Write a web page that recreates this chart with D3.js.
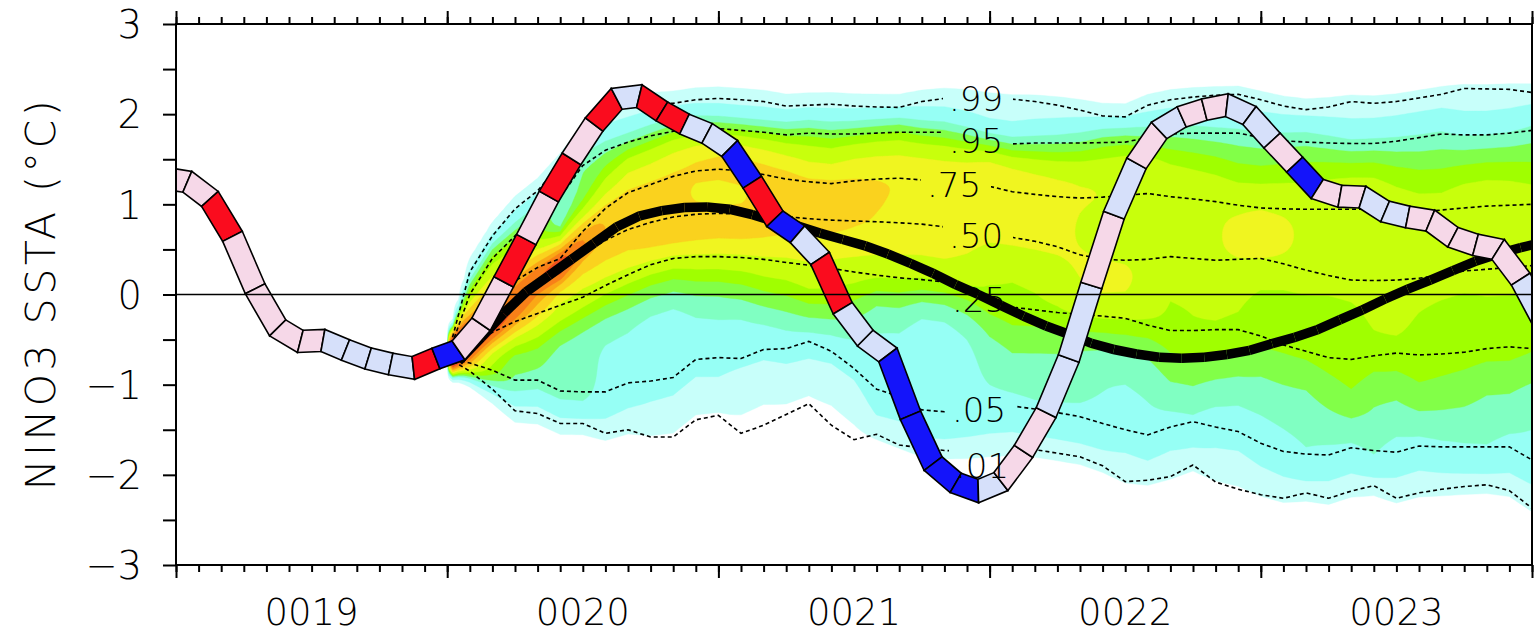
<!DOCTYPE html>
<html>
<head>
<meta charset="utf-8">
<script src="https://cdn.jsdelivr.net/npm/d3@7"></script>
<style>
  html, body { margin: 0; padding: 0; background: #fff; }
  svg text { font-family: "DejaVu Sans ExtraLight", "DejaVu Sans", sans-serif; font-weight: 200; fill: #000; }
</style>
</head>
<body>
<svg id="chart" width="1534" height="634"></svg>
<script>
// ---------------- data ----------------
// Months are counted from January 0019 (index 0).
// Observed anomalies sit at mid-month, starting with December 0018.
const obsStartMonth = -1;
const obsValues = [
  1.29, 1.25, 1.06, 0.645, 0.064, -0.37, -0.52, -0.51, -0.615, -0.71, -0.77, -0.815,
  -0.71, -0.62, -0.33, 0.14, 0.61, 1.087, 1.504, 1.885, 2.17, 2.20, 2.03, 1.89,
  1.787, 1.62, 1.245, 0.84, 0.668, 0.40, -0.153, -0.484, -0.67, -1.34, -1.876, -2.09,
  -2.18, -2.075, -1.74, -1.31, -0.71, 0.10, 0.88, 1.455, 1.82, 1.97, 2.05, 2.10,
  1.985, 1.707, 1.44, 1.17, 1.09, 1.08, 0.92, 0.86, 0.82, 0.635, 0.55, 0.50,
  0.17, -0.30
];
// colour class of each monthly segment (R red, P pink, L light blue, B blue)
const obsClass = [
  "P","P","R","P","P","P","P","L","L","L","L","R",
  "B","P","P","R","P","R","P","R","L","R","R","L",
  "L","B","R","B","L","R","L","L","B","B","B","B",
  "L","P","P","L","L","P","L","P","L","P","P","L",
  "L","P","B","P","P","L","L","P","P","P","P","P",
  "L"
];
const classColors = { R: "#fa0c1e", P: "#f6d8e8", L: "#d6e0fa", B: "#1414fa" };

// ensemble mean, mid-month values from January 0020
const meanStartMonth = 12;
const meanValues = [
  -0.74, -0.48, -0.21, 0.03, 0.21, 0.39, 0.57, 0.75, 0.87, 0.93, 0.965, 0.97,
  0.945, 0.885, 0.81, 0.76, 0.68, 0.61, 0.54, 0.45, 0.345, 0.235, 0.11, 0.0,
  -0.12, -0.24, -0.35, -0.44, -0.54, -0.61, -0.66, -0.695, -0.707, -0.695, -0.665, -0.62,
  -0.545, -0.475, -0.39, -0.28, -0.17, -0.05, 0.06, 0.16, 0.265, 0.37, 0.45, 0.52,
  0.58
];

// ensemble percentiles at the start of each month, from 1 January 0020 to 1 January 0024
const fcStartMonth = 12;
const p01 = [
  -0.70, -0.85, -1.05, -1.29, -1.32, -1.43, -1.43, -1.54, -1.50, -1.58, -1.58, -1.39,
  -1.34, -1.54, -1.45, -1.33, -1.21, -1.45, -1.61, -1.55, -1.67, -1.70, -1.73, -1.74,
  -1.73, -1.72, -1.72, -1.76, -1.80, -1.90, -2.075, -2.06, -2.02, -1.89, -2.08, -2.16,
  -2.22, -2.26, -2.20, -2.26, -2.18, -2.12, -2.26, -2.20, -2.16, -2.13, -2.11, -2.175,
  -2.37
];
const p05 = [
  -0.70, -0.76, -0.84, -0.95, -0.95, -1.07, -1.08, -1.08, -0.98, -0.96, -0.92, -0.72,
  -0.70, -0.71, -0.61, -0.60, -0.52, -0.63, -0.82, -1.05, -1.13, -1.28, -1.30, -1.28,
  -1.25, -1.236, -1.27, -1.31, -1.355, -1.43, -1.50, -1.557, -1.47, -1.41, -1.47, -1.52,
  -1.65, -1.74, -1.77, -1.78, -1.70, -1.73, -1.75, -1.68, -1.69, -1.69, -1.69, -1.69,
  -1.835
];
const p25 = [
  -0.70, -0.58, -0.42, -0.30, -0.21, -0.12, -0.03, 0.10, 0.22, 0.33, 0.40, 0.42,
  0.42, 0.41, 0.39, 0.355, 0.325, 0.29, 0.25, 0.215, 0.185, 0.165, 0.14, 0.06,
  -0.07, -0.14, -0.17, -0.20, -0.22, -0.24, -0.264, -0.34, -0.40, -0.40, -0.39, -0.39,
  -0.46, -0.56, -0.63, -0.70, -0.72, -0.68, -0.65, -0.67, -0.66, -0.64, -0.60, -0.58,
  -0.60
];
const p50 = [
  -0.70, -0.50, -0.29, -0.09, 0.10, 0.27, 0.45, 0.60, 0.72, 0.80, 0.86, 0.89,
  0.90, 0.89, 0.88, 0.865, 0.84, 0.825, 0.815, 0.807, 0.795, 0.78, 0.75, 0.72,
  0.68, 0.634, 0.59, 0.53, 0.44, 0.39, 0.38, 0.39, 0.42, 0.40, 0.38, 0.39,
  0.40, 0.34, 0.27, 0.21, 0.16, 0.155, 0.16, 0.18, 0.22, 0.26, 0.28, 0.30,
  0.32
];
const p75 = [
  -0.70, -0.35, -0.05, 0.15, 0.30, 0.40, 0.70, 0.955, 1.13, 1.22, 1.31, 1.37,
  1.39, 1.37, 1.33, 1.28, 1.25, 1.23, 1.26, 1.28, 1.29, 1.27, 1.25, 1.22,
  1.20, 1.14, 1.11, 1.085, 1.07, 1.08, 1.10, 1.12, 1.085, 1.06, 1.03, 0.99,
  0.96, 0.95, 0.945, 0.945, 0.945, 0.945, 0.915, 0.91, 0.937, 0.96, 0.98, 0.99,
  1.0
];
const p95 = [
  -0.70, 0.0, 0.40, 0.65, 0.85, 1.08, 1.43, 1.60, 1.69, 1.76, 1.81, 1.84,
  1.84, 1.82, 1.80, 1.77, 1.79, 1.78, 1.78, 1.79, 1.80, 1.80, 1.80, 1.76,
  1.70, 1.67, 1.68, 1.68, 1.68, 1.685, 1.69, 1.74, 1.78, 1.79, 1.79, 1.79,
  1.74, 1.705, 1.69, 1.68, 1.675, 1.675, 1.70, 1.74, 1.78, 1.77, 1.77, 1.79,
  1.82
];
const p99 = [
  -0.70, 0.25, 0.65, 0.95, 1.15, 1.45, 1.75, 1.98, 2.09, 2.12, 2.12, 2.16,
  2.175, 2.16, 2.14, 2.09, 2.10, 2.11, 2.09, 2.08, 2.075, 2.14, 2.175, 2.18,
  2.175, 2.167, 2.14, 2.10, 2.045, 1.98, 1.97, 2.10, 2.16, 2.19, 2.21, 2.22,
  2.16, 2.09, 2.05, 2.08, 2.14, 2.12, 2.14, 2.18, 2.22, 2.285, 2.28, 2.275,
  2.24
];
const quantileSeries = [p01, p05, p25, p50, p75, p95, p99];
const quantileLabels = [".01", ".05", ".25", ".50", ".75", ".95", ".99"];
// label anchor (text start x, baseline y) for each percentile curve
const quantileLabelPos = [[955, 478], [952, 422], [952, 312], [949, 248], [927, 197], [949, 153], [949, 111]];

// probability-density shading levels (per degC) and colours
const densityLevels = [0.032, 0.075, 0.135, 0.18, 0.23, 0.29, 0.40, 0.52, 0.72, 0.92, 1.20, 1.60];
const densityColors = ["#c8fffa", "#96fff5", "#80ffc2", "#82ff48", "#a0ff00", "#c8ff0c",
                       "#f0f520", "#fad21e", "#faa816", "#f88018", "#f0501e", "#e0281c"];

const yearTicks = [19, 20, 21, 22, 23, 24];
const yearLabels = ["0019", "0020", "0021", "0022", "0023"];
const yTickValues = [-3, -2.5, -2, -1.5, -1, -0.5, 0, 0.5, 1, 1.5, 2, 2.5, 3];
const yTitle = "NINO3 SSTA (\u00B0C)";

// ---------------- layout ----------------
const W = 1534, H = 634;
const plotL = 176, plotR = 1532, plotT = 24, plotB = 565;
const x = d3.scaleLinear().domain([19, 24]).range([plotL, plotR]);
const y = d3.scaleLinear().domain([-3, 3]).range([plotB, plotT]);
const midX = m => x(19 + (m + 0.5) / 12);   // mid-month
const startX = m => x(19 + m / 12);        // first day of month

const svg = d3.select("#chart");
const defs = svg.append("defs");
defs.append("clipPath").attr("id", "plotClip")
  .append("rect").attr("x", plotL).attr("y", plotT).attr("width", plotR - plotL).attr("height", plotB - plotT);
defs.append("clipPath").attr("id", "fanClip")
  .append("rect").attr("x", startX(fcStartMonth)).attr("y", plotT)
  .attr("width", plotR - startX(fcStartMonth)).attr("height", plotB - plotT);

// ---------------- density field from the percentiles ----------------
// z(v) is interpolated monotonically through the percentiles (in probit units),
// the density is phi(z) * dz/dv, then lightly smoothed along v
const zLevels = [-2.3263, -1.6449, -0.6745, 0, 0.6745, 1.6449, 2.3263];

function monotoneSpline(xs, ys) {
  const n = xs.length, d = [], m = new Array(n);
  for (let i = 0; i < n - 1; i++) d[i] = (ys[i + 1] - ys[i]) / (xs[i + 1] - xs[i]);
  m[0] = d[0]; m[n - 1] = d[n - 2];
  for (let i = 1; i < n - 1; i++) m[i] = (d[i - 1] * d[i] <= 0) ? 0 : (d[i - 1] + d[i]) / 2;
  for (let i = 0; i < n - 1; i++) {
    const a = m[i] / d[i], b = m[i + 1] / d[i], s = a * a + b * b;
    if (s > 9) { const t = 3 / Math.sqrt(s); m[i] = t * a * d[i]; m[i + 1] = t * b * d[i]; }
  }
  return v => {
    if (v <= xs[0]) return [ys[0] + d[0] * (v - xs[0]), d[0]];
    if (v >= xs[n - 1]) return [ys[n - 1] + d[n - 2] * (v - xs[n - 1]), d[n - 2]];
    let i = 0;
    while (v > xs[i + 1]) i++;
    const h = xs[i + 1] - xs[i], t = (v - xs[i]) / h, t2 = t * t, t3 = t2 * t;
    const z = (2 * t3 - 3 * t2 + 1) * ys[i] + (t3 - 2 * t2 + t) * h * m[i]
            + (-2 * t3 + 3 * t2) * ys[i + 1] + (t3 - t2) * h * m[i + 1];
    const dz = (6 * t2 - 6 * t) / h * ys[i] + (3 * t2 - 4 * t + 1) * m[i]
             + (-6 * t2 + 6 * t) / h * ys[i + 1] + (3 * t2 - 2 * t) * m[i + 1];
    return [z, dz];
  };
}

const sub = 4, dv = 0.025, vTop = 3.1, vBot = -3.1, smoothSigma = 0.1;
const nMonths = p50.length;
const nx = (nMonths - 1) * sub + 1;
const ny = Math.round((vTop - vBot) / dv) + 1;
const grid = new Float64Array(nx * ny);
const kr = Math.ceil(3 * smoothSigma / dv);
const kernel = d3.range(-kr, kr + 1).map(o => Math.exp(-0.5 * (o * dv / smoothSigma) ** 2));
const kSum = d3.sum(kernel);
for (let i = 0; i < nx; i++) {
  const t = i / sub, k = Math.min(Math.floor(t), nMonths - 2), f = t - k;
  const qs = quantileSeries.map(a => a[k] * (1 - f) + a[k + 1] * f);
  if (qs[6] - qs[0] < 1e-6) continue;
  for (let q = 1; q < qs.length; q++) if (qs[q] <= qs[q - 1]) qs[q] = qs[q - 1] + 1e-4;
  const spline = monotoneSpline(qs, zLevels);
  const col = new Float64Array(ny);
  for (let j = 0; j < ny; j++) {
    const [z, dz] = spline(vTop - j * dv);
    col[j] = Math.exp(-z * z / 2) / Math.sqrt(2 * Math.PI) * dz;
  }
  for (let j = 0; j < ny; j++) {
    let s = 0;
    for (let o = -kr; o <= kr; o++) {
      const jj = j + o;
      if (jj >= 0 && jj < ny) s += col[jj] * kernel[o + kr];
    }
    grid[j * nx + i] = s / kSum;
  }
}
const contours = d3.contours().size([nx, ny]).thresholds(densityLevels)(Array.from(grid));
const gridPath = d3.geoPath(d3.geoTransform({
  point(gx, gy) {
    this.stream.point(startX(fcStartMonth + (gx - 0.5) / sub), y(vTop - (gy - 0.5) * dv));
  }
}));

const plot = svg.append("g").attr("clip-path", "url(#plotClip)");
plot.append("g").attr("clip-path", "url(#fanClip)")
  .selectAll("path").data(contours).join("path")
  .attr("d", gridPath)
  .attr("fill", (d, i) => densityColors[i])
  .attr("stroke", (d, i) => densityColors[i])
  .attr("stroke-width", 0.4);

// ---------------- percentile curves ----------------
const mask = defs.append("mask").attr("id", "labelGaps");
mask.append("rect").attr("x", 0).attr("y", 0).attr("width", W).attr("height", H).attr("fill", "#fff");
quantileLabelPos.forEach(([lx, ly]) => {
  mask.append("rect").attr("x", lx - 6).attr("y", ly - 30).attr("width", 70).attr("height", 36).attr("fill", "#000");
});
const qLine = d3.line().x((d, i) => startX(fcStartMonth + i)).y(d => y(d));
plot.append("g").attr("mask", "url(#labelGaps)")
  .selectAll("path").data(quantileSeries).join("path")
  .attr("d", qLine)
  .attr("fill", "none").attr("stroke", "#000")
  .attr("stroke-width", 1.6).attr("stroke-dasharray", "4,3");

svg.append("g").selectAll("text").data(quantileLabels).join("text")
  .attr("x", (d, i) => quantileLabelPos[i][0])
  .attr("y", (d, i) => quantileLabelPos[i][1])
  .attr("font-size", 34)
  .text(d => d);

// ---------------- thick segmented lines ----------------
function unit(dx, dy) { const l = Math.hypot(dx, dy) || 1; return [dx / l, dy / l]; }
function segmentQuads(pts, halfW) {
  const n = pts.length, L = [], R = [];
  for (let k = 0; k < n; k++) {
    const a = k > 0 ? unit(pts[k][0] - pts[k - 1][0], pts[k][1] - pts[k - 1][1]) : null;
    const b = k < n - 1 ? unit(pts[k + 1][0] - pts[k][0], pts[k + 1][1] - pts[k][1]) : null;
    const t = (a && b) ? unit(a[0] + b[0], a[1] + b[1]) : (a || b);
    const nrm = [-t[1], t[0]];
    const ref = a || b, refN = [-ref[1], ref[0]];
    const len = halfW / Math.max(0.35, nrm[0] * refN[0] + nrm[1] * refN[1]);
    L.push([pts[k][0] + nrm[0] * len, pts[k][1] + nrm[1] * len]);
    R.push([pts[k][0] - nrm[0] * len, pts[k][1] - nrm[1] * len]);
  }
  const quads = [];
  for (let k = 0; k < n - 1; k++) quads.push([L[k], L[k + 1], R[k + 1], R[k]]);
  return quads;
}
const poly = q => "M" + q.map(p => p[0].toFixed(2) + "," + p[1].toFixed(2)).join("L") + "Z";

// ensemble mean
const meanPts = meanValues.map((v, i) => [midX(meanStartMonth + i), y(v)]);
plot.append("g").selectAll("path").data(segmentQuads(meanPts, 4.8)).join("path")
  .attr("d", poly).attr("fill", "#000");

// observed anomaly ribbon
const obsPts = obsValues.map((v, i) => [midX(obsStartMonth + i), y(v)]);
plot.append("g").selectAll("path").data(segmentQuads(obsPts, 11)).join("path")
  .attr("d", poly)
  .attr("fill", (d, i) => classColors[obsClass[i]])
  .attr("stroke", "#000").attr("stroke-width", 1.6).attr("stroke-linejoin", "miter");

// zero line
plot.append("line")
  .attr("x1", plotL).attr("x2", plotR).attr("y1", y(0)).attr("y2", y(0))
  .attr("stroke", "#000").attr("stroke-width", 1.6);

// ---------------- axes ----------------
const axisStyle = g => {
  g.select(".domain").remove();
  g.selectAll(".tick line").attr("stroke", "#000").attr("stroke-width", 2);
};
const minorMonths = d3.range(0, 61).map(k => 19 + k / 12);
svg.append("g").attr("transform", `translate(0,${plotB})`)
  .call(d3.axisBottom(x).tickValues(minorMonths).tickSize(7).tickFormat("")).call(axisStyle);
svg.append("g").attr("transform", `translate(0,${plotB})`)
  .call(d3.axisBottom(x).tickValues(yearTicks).tickSize(13).tickFormat("")).call(axisStyle);
svg.append("g").attr("transform", `translate(0,${plotT})`)
  .call(d3.axisTop(x).tickValues(minorMonths).tickSize(7).tickFormat("")).call(axisStyle);
svg.append("g").attr("transform", `translate(0,${plotT})`)
  .call(d3.axisTop(x).tickValues(yearTicks).tickSize(13).tickFormat("")).call(axisStyle);

const fmt = d3.format("d");
svg.append("g").attr("transform", `translate(${plotL},0)`)
  .call(d3.axisLeft(y).tickValues(yTickValues).tickSize(13).tickPadding(21)
        .tickFormat(d => Number.isInteger(d) ? fmt(d) : ""))
  .call(axisStyle)
  .call(g => g.selectAll(".tick text")
    .attr("font-size", 38.4).attr("dy", "0.36em").attr("fill", "#000"));
svg.selectAll("g").attr("font-family", null).attr("font-size", null);

// frame
svg.append("rect").attr("x", plotL).attr("y", plotT)
  .attr("width", plotR - plotL).attr("height", plotB - plotT)
  .attr("fill", "none").attr("stroke", "#000").attr("stroke-width", 2);

// year labels at mid-year
svg.append("g").selectAll("text").data(yearLabels).join("text")
  .attr("x", (d, i) => x(yearTicks[i] + 0.5))
  .attr("y", 625)
  .attr("text-anchor", "middle")
  .attr("font-size", 37)
  .text(d => d);

// y title
svg.append("text")
  .attr("transform", "translate(55,293.5) rotate(-90)")
  .attr("text-anchor", "middle")
  .attr("font-size", 41)
  .attr("letter-spacing", 3.5)
  .text(yTitle);
</script>
</body>
</html>
